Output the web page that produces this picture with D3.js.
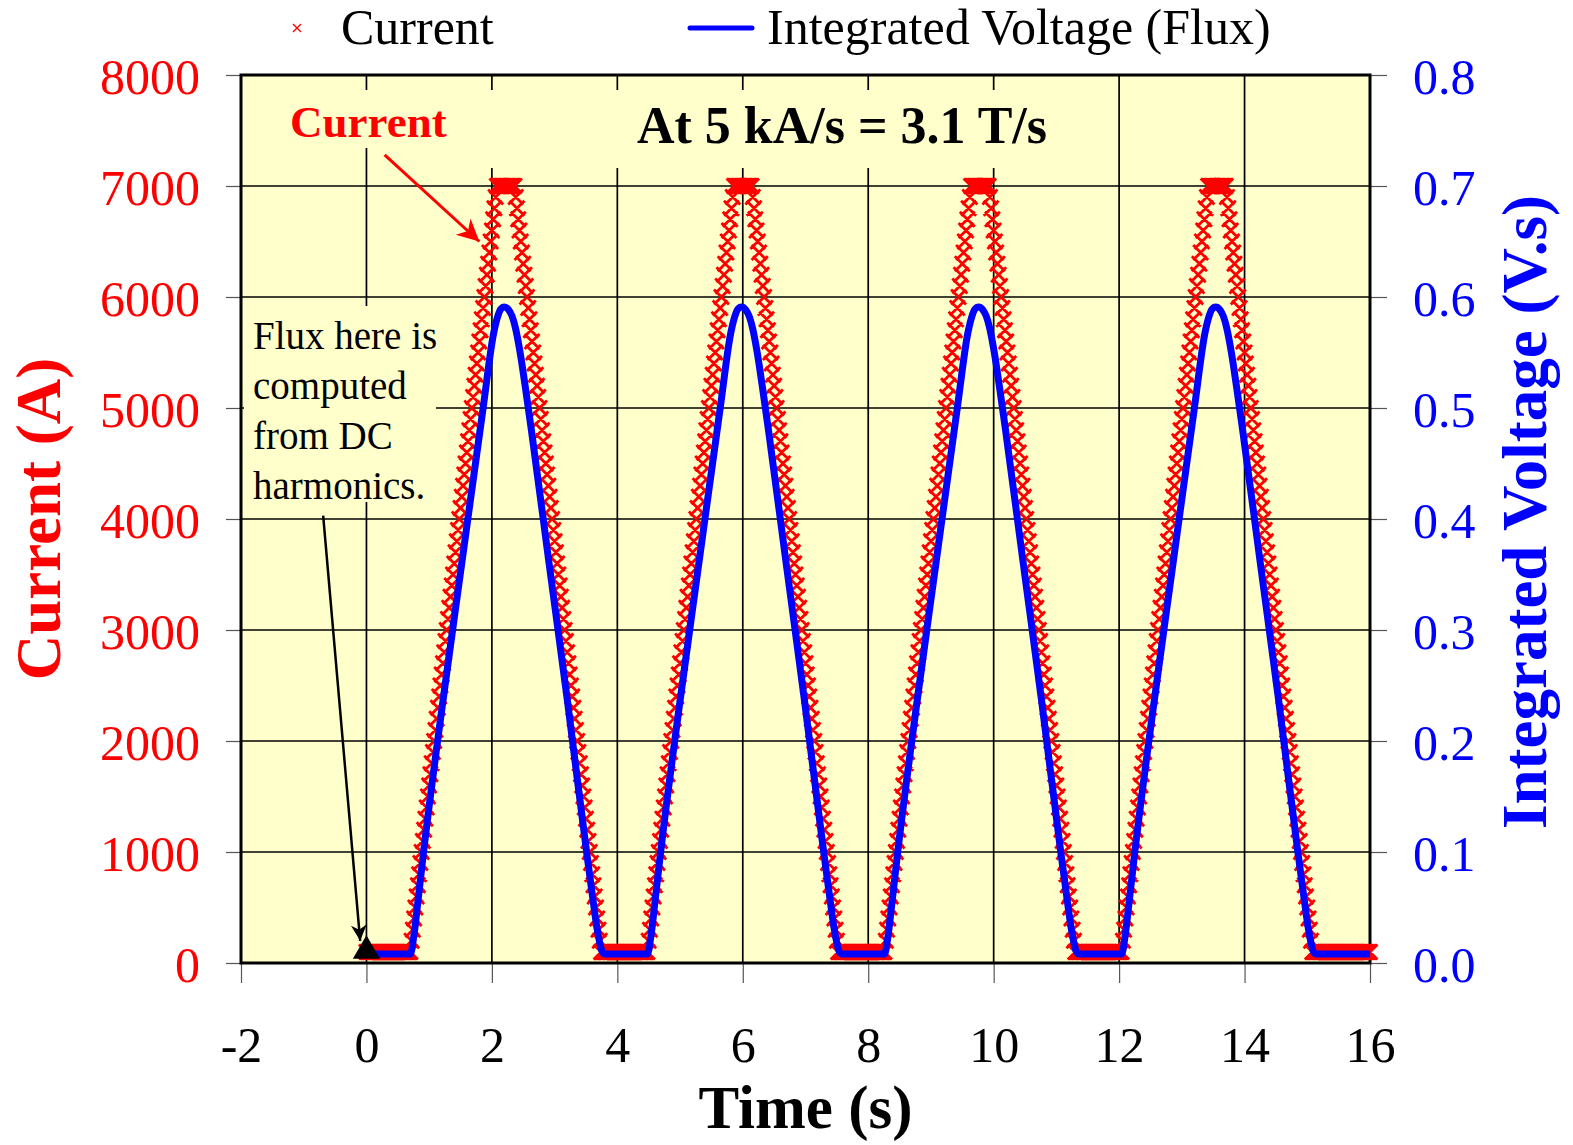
<!DOCTYPE html>
<html>
<head>
<meta charset="utf-8">
<script src="https://cdn.jsdelivr.net/npm/d3@7"></script>
<style>
  html, body { margin: 0; padding: 0; background: #ffffff; }
  svg { display: block; font-family: "Liberation Serif", "Times New Roman", Times, serif; }
</style>
</head>
<body>
<svg id="chart" width="1573" height="1145"></svg>
<script>
// ---- Tick values -------------------------------------------------------
const timeTicks = [-2, 0, 2, 4, 6, 8, 10, 12, 14, 16];
const currentTicks = [0, 1000, 2000, 3000, 4000, 5000, 6000, 7000, 8000];
const fluxTicks = [0.0, 0.1, 0.2, 0.3, 0.4, 0.5, 0.6, 0.7, 0.8];

// ---- Current (A), logged every 0.02 s starting at t = 0 -----------------
const currentSampleStart = 0;
const currentSampleInterval = 0.02;
const currentA = [
  // dwell
  100,100,100,100,100,100,100,100,100,100,100,100,100,100,100,100,100,100,
  100,100,100,100,100,100,100,100,100,100,100,100,100,100,100,100,100,100,
  // ramp 1 up
  200,300,400,500,600,700,800,900,1000,1100,1200,1300,1400,1500,1600,1700,1800,1900,
  2000,2100,2200,2300,2400,2500,2600,2700,2800,2900,3000,3100,3200,3300,3400,3500,
  3600,3700,3800,3900,4000,4100,4200,4300,4400,4500,4600,4700,4800,4900,5000,5100,
  5200,5300,5400,5500,5600,5700,5800,5900,6000,6100,6200,6300,6400,6500,6600,6700,
  6800,6900,7000,
  // flat top
  7000,7000,7000,7000,7000,7000,7000,7000,7000,7000,7000,7000,7000,7000,
  // ramp 1 down
  6900,6800,6700,6600,6500,6400,6300,6200,6100,6000,5900,5800,5700,5600,5500,5400,
  5300,5200,5100,5000,4900,4800,4700,4600,4500,4400,4300,4200,4100,4000,3900,3800,
  3700,3600,3500,3400,3300,3200,3100,3000,2900,2800,2700,2600,2500,2400,2300,2200,
  2100,2000,1900,1800,1700,1600,1500,1400,1300,1200,1100,1000,900,800,700,600,
  500,400,300,200,100,
  // dwell
  100,100,100,100,100,100,100,100,100,100,100,100,100,100,100,100,100,100,100,
  100,100,100,100,100,100,100,100,100,100,100,100,100,100,100,100,100,100,
  // ramp 2 up
  200,300,400,500,600,700,800,900,1000,1100,1200,1300,1400,1500,1600,1700,1800,1900,
  2000,2100,2200,2300,2400,2500,2600,2700,2800,2900,3000,3100,3200,3300,3400,3500,
  3600,3700,3800,3900,4000,4100,4200,4300,4400,4500,4600,4700,4800,4900,5000,5100,
  5200,5300,5400,5500,5600,5700,5800,5900,6000,6100,6200,6300,6400,6500,6600,6700,
  6800,6900,7000,
  7000,7000,7000,7000,7000,7000,7000,7000,7000,7000,7000,7000,7000,7000,
  // ramp 2 down
  6900,6800,6700,6600,6500,6400,6300,6200,6100,6000,5900,5800,5700,5600,5500,5400,
  5300,5200,5100,5000,4900,4800,4700,4600,4500,4400,4300,4200,4100,4000,3900,3800,
  3700,3600,3500,3400,3300,3200,3100,3000,2900,2800,2700,2600,2500,2400,2300,2200,
  2100,2000,1900,1800,1700,1600,1500,1400,1300,1200,1100,1000,900,800,700,600,
  500,400,300,200,100,
  100,100,100,100,100,100,100,100,100,100,100,100,100,100,100,100,100,100,100,
  100,100,100,100,100,100,100,100,100,100,100,100,100,100,100,100,100,100,
  // ramp 3 up
  200,300,400,500,600,700,800,900,1000,1100,1200,1300,1400,1500,1600,1700,1800,1900,
  2000,2100,2200,2300,2400,2500,2600,2700,2800,2900,3000,3100,3200,3300,3400,3500,
  3600,3700,3800,3900,4000,4100,4200,4300,4400,4500,4600,4700,4800,4900,5000,5100,
  5200,5300,5400,5500,5600,5700,5800,5900,6000,6100,6200,6300,6400,6500,6600,6700,
  6800,6900,7000,
  7000,7000,7000,7000,7000,7000,7000,7000,7000,7000,7000,7000,7000,7000,
  // ramp 3 down
  6900,6800,6700,6600,6500,6400,6300,6200,6100,6000,5900,5800,5700,5600,5500,5400,
  5300,5200,5100,5000,4900,4800,4700,4600,4500,4400,4300,4200,4100,4000,3900,3800,
  3700,3600,3500,3400,3300,3200,3100,3000,2900,2800,2700,2600,2500,2400,2300,2200,
  2100,2000,1900,1800,1700,1600,1500,1400,1300,1200,1100,1000,900,800,700,600,
  500,400,300,200,100,
  100,100,100,100,100,100,100,100,100,100,100,100,100,100,100,100,100,100,100,
  100,100,100,100,100,100,100,100,100,100,100,100,100,100,100,100,100,100,
  // ramp 4 up
  200,300,400,500,600,700,800,900,1000,1100,1200,1300,1400,1500,1600,1700,1800,1900,
  2000,2100,2200,2300,2400,2500,2600,2700,2800,2900,3000,3100,3200,3300,3400,3500,
  3600,3700,3800,3900,4000,4100,4200,4300,4400,4500,4600,4700,4800,4900,5000,5100,
  5200,5300,5400,5500,5600,5700,5800,5900,6000,6100,6200,6300,6400,6500,6600,6700,
  6800,6900,7000,
  7000,7000,7000,7000,7000,7000,7000,7000,7000,7000,7000,7000,7000,7000,
  // ramp 4 down
  6900,6800,6700,6600,6500,6400,6300,6200,6100,6000,5900,5800,5700,5600,5500,5400,
  5300,5200,5100,5000,4900,4800,4700,4600,4500,4400,4300,4200,4100,4000,3900,3800,
  3700,3600,3500,3400,3300,3200,3100,3000,2900,2800,2700,2600,2500,2400,2300,2200,
  2100,2000,1900,1800,1700,1600,1500,1400,1300,1200,1100,1000,900,800,700,600,
  500,400,300,200,100,
  // final dwell to t = 16 s
  100,100,100,100,100,100,100,100,100,100,100,100,100,100,100,100,100,100,100,100,
  100,100,100,100,100,100,100,100,100,100,100,100,100,100,100,100,100,100,100,100,
  100,100,100,100,100,100
];

// ---- Integrated voltage (V.s) ---------------------------------------------
const fluxTime = [
  0.00, 0.70, 0.75, 0.82, 0.90, 1.20, 1.50, 1.86, 2.03, 2.09, 2.14, 2.20, 2.26, 2.32, 2.38, 2.45, 2.53, 2.63, 2.90, 3.20, 3.51, 3.60, 3.68, 3.76, 3.80,
  4.48, 4.53, 4.60, 4.68, 4.98, 5.28, 5.64, 5.81, 5.87, 5.92, 5.98, 6.04, 6.10, 6.16, 6.23, 6.31, 6.41, 6.68, 6.98, 7.29, 7.38, 7.46, 7.54, 7.58,
  8.26, 8.31, 8.38, 8.46, 8.76, 9.06, 9.42, 9.59, 9.65, 9.70, 9.76, 9.82, 9.88, 9.94, 10.01, 10.09, 10.19, 10.46, 10.76, 11.07, 11.16, 11.24, 11.32, 11.36,
  12.04, 12.09, 12.16, 12.24, 12.54, 12.84, 13.20, 13.37, 13.43, 13.48, 13.54, 13.60, 13.66, 13.72, 13.79, 13.87, 13.97, 14.24, 14.54, 14.85, 14.94, 15.02, 15.10, 15.14,
  16.00
];
const fluxVs = [
  0.008, 0.008, 0.022, 0.055, 0.095, 0.228, 0.352, 0.500, 0.568, 0.582, 0.589, 0.591, 0.589, 0.583, 0.571, 0.550, 0.520, 0.480, 0.365, 0.238, 0.100, 0.062, 0.030, 0.010, 0.008,
  0.008, 0.022, 0.055, 0.095, 0.228, 0.352, 0.500, 0.568, 0.582, 0.589, 0.591, 0.589, 0.583, 0.571, 0.550, 0.520, 0.480, 0.365, 0.238, 0.100, 0.062, 0.030, 0.010, 0.008,
  0.008, 0.022, 0.055, 0.095, 0.228, 0.352, 0.500, 0.568, 0.582, 0.589, 0.591, 0.589, 0.583, 0.571, 0.550, 0.520, 0.480, 0.365, 0.238, 0.100, 0.062, 0.030, 0.010, 0.008,
  0.008, 0.022, 0.055, 0.095, 0.228, 0.352, 0.500, 0.568, 0.582, 0.589, 0.591, 0.589, 0.583, 0.571, 0.550, 0.520, 0.480, 0.365, 0.238, 0.100, 0.062, 0.030, 0.010, 0.008,
  0.008
];

// Point where the DC-harmonic flux is evaluated (t in s, current in A)
const dcPoint = { t: 0, current: 100 };

// ---- Layout ---------------------------------------------------------------
const svg = d3.select("#chart");
const plot = { left: 241, right: 1370, top: 75, bottom: 963 };
const RED = "#ff0000", BLUE = "#0000ff", PANEL = "#ffffcc";
const SERIF = "Liberation Serif, Times New Roman, serif";

const x = d3.scaleLinear().domain([-2, 16]).range([plot.left, plot.right]);
const yA = d3.scaleLinear().domain([0, 8000]).range([plot.bottom, plot.top]);
const yV = d3.scaleLinear().domain([0, 0.8]).range([plot.bottom, plot.top]);

// panel background
svg.append("rect")
  .attr("x", plot.left).attr("y", plot.top)
  .attr("width", plot.right - plot.left).attr("height", plot.bottom - plot.top)
  .attr("fill", PANEL);

// gridlines
const grid = svg.append("g").attr("stroke", "#000").attr("stroke-width", 1.7);
grid.selectAll("line.v").data(timeTicks.slice(1, -1)).join("line")
  .attr("x1", d => x(d)).attr("x2", d => x(d))
  .attr("y1", plot.top).attr("y2", plot.bottom);
grid.selectAll("line.h").data(currentTicks.slice(1, -1)).join("line")
  .attr("x1", plot.left).attr("x2", plot.right)
  .attr("y1", d => yA(d)).attr("y2", d => yA(d));

// text boxes that sit over the grid
const boxes = svg.append("g").attr("fill", PANEL);
boxes.append("rect").attr("x", 284).attr("y", 90).attr("width", 170).attr("height", 58);
boxes.append("rect").attr("x", 478).attr("y", 90).attr("width", 560).attr("height", 78);
boxes.append("rect").attr("x", 244).attr("y", 306).attr("width", 192).attr("height", 196);

// axes (outer ticks)
const tickStyle = g => {
  g.select(".domain").remove();
  g.selectAll(".tick line").attr("stroke", "#555").attr("stroke-width", 1.2);
};
const xAxis = svg.append("g").attr("transform", `translate(0,${plot.bottom})`)
  .call(d3.axisBottom(x).tickValues(timeTicks).tickSize(20).tickFormat(d => String(d)))
  .call(tickStyle);
xAxis.selectAll(".tick text")
  .attr("y", 99).attr("dy", 0)
  .attr("font-size", 50).attr("fill", "#000").attr("font-family", SERIF);

const yAxisL = svg.append("g").attr("transform", `translate(${plot.left},0)`)
  .call(d3.axisLeft(yA).tickValues(currentTicks).tickSize(15).tickFormat(d => String(d)))
  .call(tickStyle);
yAxisL.selectAll(".tick text")
  .attr("x", -41).attr("dy", 18)
  .attr("font-size", 50).attr("fill", RED).attr("font-family", SERIF);

const yAxisR = svg.append("g").attr("transform", `translate(${plot.right},0)`)
  .call(d3.axisRight(yV).tickValues(fluxTicks).tickSize(17).tickFormat(d3.format(".1f")))
  .call(tickStyle);
yAxisR.selectAll(".tick text")
  .attr("x", 43).attr("dy", 18)
  .attr("font-size", 50).attr("fill", BLUE).attr("font-family", SERIF);

// panel frame
svg.append("rect")
  .attr("x", plot.left).attr("y", plot.top)
  .attr("width", plot.right - plot.left).attr("height", plot.bottom - plot.top)
  .attr("fill", "none").attr("stroke", "#000").attr("stroke-width", 3);

// ---- Current markers (x) -------------------------------------------------
const m = 7.5;
const currentPath = currentA.map((v, i) => {
  const px = x(currentSampleStart + i * currentSampleInterval), py = yA(v);
  return `M${px - m},${py - m}L${px + m},${py + m}M${px - m},${py + m}L${px + m},${py - m}`;
}).join("");
svg.append("path").attr("d", currentPath)
  .attr("fill", "none").attr("stroke", RED).attr("stroke-width", 2.8);

// ---- Flux line -------------------------------------------------------------
const fluxLine = d3.line()
  .x((d, i) => x(fluxTime[i]))
  .y(d => yV(d))
  .curve(d3.curveMonotoneX);
svg.append("path").datum(fluxVs).attr("d", fluxLine)
  .attr("fill", "none").attr("stroke", BLUE).attr("stroke-width", 7)
  .attr("stroke-linejoin", "round");

// ---- DC point marker -------------------------------------------------------
svg.append("path")
  .attr("d", d3.symbol().type(d3.symbolTriangle).size(320)())
  .attr("transform", `translate(${x(dcPoint.t)},${yA(dcPoint.current) - 1})`)
  .attr("fill", "#000");

// ---- Arrows -----------------------------------------------------------------
const defs = svg.append("defs");
defs.append("marker").attr("id", "headRed")
  .attr("viewBox", "0 0 10 10").attr("refX", 10).attr("refY", 5)
  .attr("markerWidth", 26).attr("markerHeight", 22).attr("markerUnits", "userSpaceOnUse")
  .attr("orient", "auto")
  .append("path").attr("d", "M0,0L10,5L0,10L3,5Z").attr("fill", RED);
defs.append("marker").attr("id", "headBlack")
  .attr("viewBox", "0 0 10 10").attr("refX", 10).attr("refY", 5)
  .attr("markerWidth", 24).attr("markerHeight", 16).attr("markerUnits", "userSpaceOnUse")
  .attr("orient", "auto")
  .append("path").attr("d", "M0,0L10,5L0,10L3,5Z").attr("fill", "#000");

svg.append("line")
  .attr("x1", x(0.29)).attr("y1", yA(7280))
  .attr("x2", x(1.80)).attr("y2", yA(6500))
  .attr("stroke", RED).attr("stroke-width", 3).attr("marker-end", "url(#headRed)");
svg.append("line")
  .attr("x1", x(-0.69)).attr("y1", yA(4030))
  .attr("x2", x(-0.10)).attr("y2", yA(200))
  .attr("stroke", "#000").attr("stroke-width", 2.5).attr("marker-end", "url(#headBlack)");

// ---- Annotations -----------------------------------------------------------
svg.append("text").attr("x", 290).attr("y", 137)
  .attr("font-size", 45).attr("font-weight", "bold").attr("fill", RED)
  .text("Current");
svg.append("text").attr("x", 842).attr("y", 143).attr("text-anchor", "middle")
  .attr("font-size", 52).attr("font-weight", "bold").attr("fill", "#000")
  .text("At 5 kA/s = 3.1 T/s");

const note = svg.append("text").attr("font-size", 39).attr("fill", "#000");
["Flux here is", "computed", "from DC", "harmonics."].forEach((s, i) => {
  note.append("tspan").attr("x", 253).attr("y", 349 + i * 50).text(s);
});

// ---- Axis titles -----------------------------------------------------------
svg.append("text").attr("x", (plot.left + plot.right) / 2).attr("y", 1128)
  .attr("text-anchor", "middle").attr("font-size", 61).attr("font-weight", "bold")
  .text("Time (s)");
svg.append("text")
  .attr("transform", `translate(60,${(plot.top + plot.bottom) / 2}) rotate(-90)`)
  .attr("text-anchor", "middle").attr("font-size", 63).attr("font-weight", "bold")
  .attr("fill", RED).text("Current (A)");
svg.append("text")
  .attr("transform", `translate(1546,512) rotate(-90)`)
  .attr("text-anchor", "middle").attr("font-size", 63).attr("font-weight", "bold")
  .attr("fill", BLUE).text("Integrated Voltage (V.s)");

// ---- Legend ------------------------------------------------------------------
const lg = svg.append("g");
lg.append("path").attr("d", "M293,24L301,32M293,32L301,24")
  .attr("stroke", RED).attr("stroke-width", 1.4).attr("fill", "none");
lg.append("text").attr("x", 341).attr("y", 44).attr("font-size", 50).text("Current");
lg.append("line").attr("x1", 690).attr("x2", 752).attr("y1", 28).attr("y2", 28)
  .attr("stroke", BLUE).attr("stroke-width", 5).attr("stroke-linecap", "round");
lg.append("text").attr("x", 767).attr("y", 44).attr("font-size", 50)
  .text("Integrated Voltage (Flux)");
</script>
</body>
</html>
